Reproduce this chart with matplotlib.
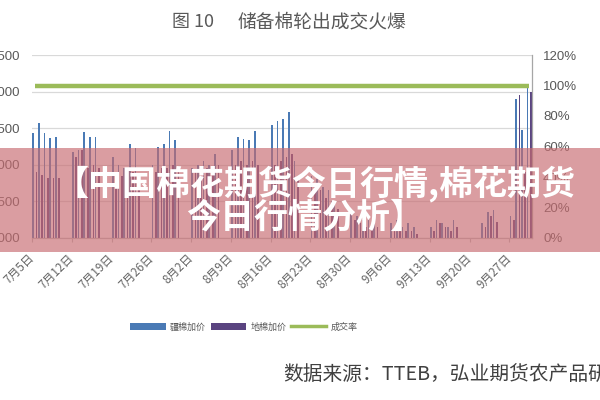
import matplotlib
matplotlib.use("Agg")
import matplotlib.pyplot as plt
from matplotlib.patches import Patch, Rectangle
from matplotlib.lines import Line2D
import pandas as pd
import numpy as np

plt.rcParams['font.family'] = ['Noto Sans CJK SC', 'DejaVu Sans']

# ---------------- data ----------------
trade_dates = [
    "2021-07-05", "2021-07-06", "2021-07-07", "2021-07-08", "2021-07-09",
    "2021-07-12", "2021-07-13", "2021-07-14", "2021-07-15", "2021-07-16",
    "2021-07-19", "2021-07-20", "2021-07-21", "2021-07-22", "2021-07-23",
    "2021-07-26", "2021-07-27", "2021-07-28", "2021-07-29", "2021-07-30",
    "2021-08-02", "2021-08-03", "2021-08-04", "2021-08-05", "2021-08-06",
    "2021-08-09", "2021-08-10", "2021-08-11", "2021-08-12", "2021-08-13",
    "2021-08-16", "2021-08-17", "2021-08-18", "2021-08-19", "2021-08-20",
    "2021-08-23", "2021-08-24", "2021-08-25", "2021-08-26", "2021-08-27",
    "2021-08-30", "2021-08-31", "2021-09-01", "2021-09-02", "2021-09-03",
    "2021-09-06", "2021-09-07", "2021-09-08", "2021-09-09", "2021-09-10",
    "2021-09-13", "2021-09-14", "2021-09-15", "2021-09-16", "2021-09-17",
    "2021-09-22", "2021-09-23", "2021-09-24",
    "2021-09-27", "2021-09-28", "2021-09-29", "2021-09-30",
]
xinjiang_markup = [
    2430, 2570, 2430, 2370, 2380,
    2180, 2200, 2450, 2380, 2380,
    2100, 2000, 1950, 2280, 2230,
    2000, 2240, 2280, 2460, 2340,
    1950, 2000, 2050, 2000, 2150,
    2200, 2380, 2350, 2340, 2460,
    2540, 2600, 2630, 2720, 2050,
    1850, 1800, 1700, 1650, 1500,
    1350, 1300, 1250, 1300, 1250,
    1200, 1250, 1150, 1200, 1150,
    1150, 1250, 1200, 1150, 1250,
    1200, 1350, 1380,
    1300, 2900, 2470, 3050,
]
local_markup = [
    1900, 1860, 1820, 1820, 1820,
    2100, 2200, 1950, 2000, 1950,
    1900, 1850, 1800, 1900, 1850,
    1900, 1950, 1950, 2000, 1950,
    1900, 1850, 1950, 1900, 2000,
    2000, 2050, 2000, 2050, 2000,
    2000, 2050, 2100, 2150, 1850,
    1700, 1650, 1550, 1500, 1400,
    1250, 1200, 1150, 1200, 1150,
    1100, 1150, 1100, 1100, 1050,
    1100, 1200, 1150, 1100, 1150,
    1150, 1300, 1220,
    1250, 2950, 1900, 2990,
]
deal_rate = [
    100, 100, 100, 100, 100,
    100, 100, 100, 100, 100,
    100, 100, 100, 100, 100,
    100, 100, 100, 100, 100,
    100, 100, 100, 100, 100,
    100, 100, 100, 100, 100,
    100, 100, 100, 100, 100,
    100, 100, 100, 100, 100,
    100, 100, 100, 100, 100,
    100, 100, 100, 100, 100,
    100, 100, 100, 100, 100,
    100, 100, 100,
    100, 100, 100, 100,
]
tick_dates = ["2021-07-05", "2021-07-12", "2021-07-19", "2021-07-26", "2021-08-02",
              "2021-08-09", "2021-08-16", "2021-08-23", "2021-08-30", "2021-09-06",
              "2021-09-13", "2021-09-20", "2021-09-27"]
tick_labels = ["7月5日", "7月12日", "7月19日", "7月26日", "8月2日", "8月9日", "8月16日",
               "8月23日", "8月30日", "9月6日", "9月13日", "9月20日", "9月27日"]
left_ticks = [1000, 1500, 2000, 2500, 3000, 3500]
right_ticks = [0, 20, 40, 60, 80, 100, 120]
series_names = ["疆棉加价", "地棉加价", "成交率"]

# ---------------- positions ----------------
start = pd.Timestamp("2021-07-05")
days = np.array([(pd.Timestamp(d) - start).days for d in trade_dates], dtype=float)
tdays = np.array([(pd.Timestamp(d) - start).days for d in tick_dates], dtype=float)
end_day = (pd.Timestamp("2021-09-30") - start).days

BLUE = '#4a7ab5'
PURPLE = '#5a4480'
GREEN = '#9bbb59'
GRAY = '#595959'

fig = plt.figure(figsize=(6, 4), dpi=100)
fig.patch.set_facecolor('white')
ax = fig.add_axes([32 / 600, 1 - 238 / 400, 500 / 600, 183 / 400])
ax2 = ax.twinx()

w = 0.3
ax.bar(days - 0.3, np.array(xinjiang_markup) - left_ticks[0], bottom=left_ticks[0],
       width=w, color=BLUE, zorder=3)
ax.bar(days + 0.3, np.array(local_markup) - left_ticks[0], bottom=left_ticks[0],
       width=w, color=PURPLE, zorder=3)
ax2.plot(days, deal_rate, color=GREEN, lw=3.2, solid_capstyle='butt', zorder=4)

ax.set_xlim(-0.5, end_day + 0.5)
ax.set_ylim(left_ticks[0], left_ticks[-1])
ax2.set_ylim(right_ticks[0], right_ticks[-1])

ax.set_yticks(left_ticks)
ax.set_yticklabels([str(v) for v in left_ticks], family=['Liberation Sans'], fontsize=9.5, color=GRAY)
ax2.set_yticks(right_ticks)
ax2.set_yticklabels([f"{v}%" for v in right_ticks], family=['Liberation Sans'], fontsize=9.5, color=GRAY)

ax.set_xticks(tdays - 0.5)
ax.set_xticklabels(tick_labels, rotation=45, ha='right', va='center',
                   rotation_mode='anchor', fontsize=8.5, color='#666666')

ax.grid(axis='y', color='#d9d9d9', lw=0.9, zorder=0)
ax.set_axisbelow(True)
ax.tick_params(axis='y', length=0, pad=8.5)
ax2.tick_params(axis='y', length=0, pad=8)
ax.tick_params(axis='x', length=3, width=0.8, color='#bfbfbf', pad=10)

for a in (ax, ax2):
    a.spines['top'].set_visible(False)
    a.spines['left'].set_visible(False)
    a.spines['right'].set_visible(False)
    a.spines['bottom'].set_color('#bfbfbf')
ax2.spines['right'].set_visible(True)
ax2.spines['right'].set_color('#a6a6a6')
ax2.spines['right'].set_linewidth(0.9)
ax.patch.set_visible(False)

# title
fig.text(172 / 600, 1 - 22 / 400, "图 10", fontsize=13, color=GRAY, va='center', ha='left')
fig.text(238 / 600, 1 - 22 / 400, "储备棉轮出成交火爆", fontsize=13.5, color=GRAY, va='center', ha='left')

# legend
handles = [Patch(facecolor=BLUE, edgecolor='none'),
           Patch(facecolor=PURPLE, edgecolor='none'),
           Line2D([], [], color=GREEN, lw=2.5)]
fig.legend(handles, series_names, loc='center', bbox_to_anchor=(244 / 600, 1 - 327 / 400),
           ncol=3, frameon=False, fontsize=6.5, handlelength=3.9, handleheight=0.8,
           handletextpad=0.5, columnspacing=0.5, labelcolor=GRAY)

# source
fig.text(283 / 600, 1 - 375 / 400, "数据来源：TTEB，弘业期货农产品研究中心", fontsize=14.2,
         color='#404040', va='center', ha='left')

# banner overlay
fig.patches.append(Rectangle((0, 1 - 252 / 400), 1, 104 / 400, transform=fig.transFigure,
                             facecolor=(0.78, 0.42, 0.44), alpha=0.66, edgecolor='none', zorder=10))
fig.text(315 / 600, 1 - 184 / 400, "【中国棉花期货今日行情,棉花期货", fontsize=24.5, fontweight='heavy',
         color='white', ha='center', va='center', zorder=11)
fig.text(305 / 600, 1 - 217 / 400, "今日行情分析】", fontsize=24.5, fontweight='heavy',
         color='white', ha='center', va='center', zorder=11)

fig.savefig("out.png", dpi=100)
